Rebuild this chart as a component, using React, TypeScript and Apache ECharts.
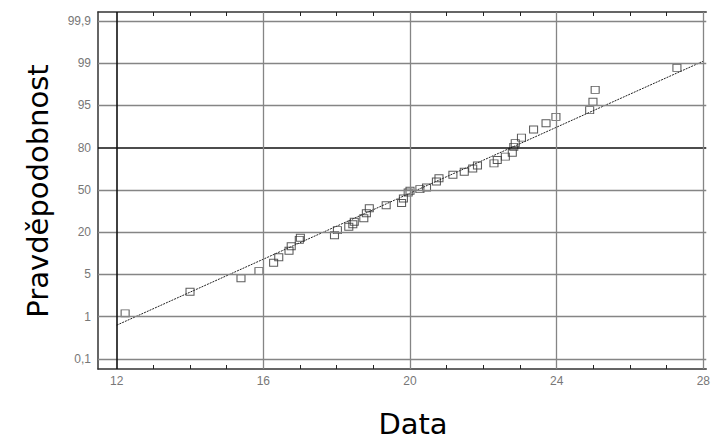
import React, { useEffect, useRef } from "react";
import * as echarts from "echarts";

// Probability-scale tick labels (evenly spaced positions 0..8 on the y axis)
const yTickLabels = ["0,1", "1", "5", "20", "50", "80", "95", "99", "99,9"];
const yTickPositions = [0, 1, 2, 3, 4, 5, 6, 7, 8];
const xTickValues = [12, 16, 20, 24, 28];
const xMinorTicks = [13, 14, 15, 17, 18, 19, 21, 22, 23, 25, 26, 27];

// Observed data (x) and their plotting positions on the probability scale (y)
const dataX = [
  12.23, 14.0, 15.39, 15.88, 16.28, 16.42, 16.7, 16.76, 16.98, 17.01,
  17.94, 18.02, 18.33, 18.44, 18.48, 18.74, 18.81, 18.89, 19.35, 19.77,
  19.82, 19.95, 20.0, 20.27, 20.45, 20.72, 20.79, 21.17, 21.48, 21.71,
  21.84, 22.29, 22.38, 22.6, 22.79, 22.83, 22.87, 23.04, 23.37, 23.71,
  23.98, 24.9, 24.99, 25.05, 27.28,
];
const dataY = [
  1.08, 1.59, 1.91, 2.08, 2.28, 2.41, 2.56, 2.67, 2.82, 2.87,
  2.93, 3.05, 3.13, 3.19, 3.25, 3.33, 3.45, 3.57, 3.64, 3.69,
  3.8, 3.94, 3.98, 4.02, 4.06, 4.2, 4.28, 4.36, 4.43, 4.51,
  4.58, 4.63, 4.71, 4.79, 4.88, 5.02, 5.11, 5.24, 5.43, 5.58,
  5.73, 5.89, 6.09, 6.37, 6.89,
];

// Fitted line endpoints
const fitX = [12, 28];
const fitY = [0.8, 7.05];

// Emphasised reference lines
const refX = 12;
const refY = 5; // 80 %

export default function App() {
  const ref = useRef<HTMLDivElement>(null);

  useEffect(() => {
    if (!ref.current) return;
    const chart = echarts.init(ref.current, undefined, { renderer: "svg" });

    const gridGray = "#858585";
    const markData: any[] = [];
    yTickPositions.forEach((v) => {
      markData.push({
        yAxis: v,
        lineStyle: v === refY
          ? { color: "#111", width: 1.6, type: "solid" }
          : { color: gridGray, width: 1.3, type: "solid" },
      });
    });
    xTickValues.forEach((v) => {
      markData.push({
        xAxis: v,
        lineStyle: v === refX
          ? { color: "#111", width: 1.6, type: "solid" }
          : { color: gridGray, width: 1.3, type: "solid" },
      });
    });

    const labelStyle = {
      color: "#777777",
      fontSize: 12,
      fontFamily: "Liberation Sans, Arial, sans-serif",
    };

    chart.setOption({
      animation: false,
      backgroundColor: "#ffffff",
      grid: { left: 98, top: 12, right: 0, bottom: 73, containLabel: false },
      xAxis: [
        {
          type: "value",
          min: 11.49,
          max: 28.08,
          position: "bottom",
          axisLine: { show: true, onZero: false, lineStyle: { color: "#333", width: 1.5 } },
          axisTick: {
            show: true,
            inside: true,
            length: 4,
            customValues: xMinorTicks,
            lineStyle: { color: "#222", width: 1 },
          },
          axisLabel: {
            ...labelStyle,
            margin: 6,
            customValues: xTickValues,
            formatter: (v: number) => String(Math.round(v)),
          },
          splitLine: { show: false },
        },
        {
          type: "value",
          min: 11.49,
          max: 28.08,
          position: "top",
          axisLine: { show: true, onZero: false, lineStyle: { color: "#333", width: 1.5 } },
          axisTick: {
            show: true,
            inside: true,
            length: 4,
            customValues: xMinorTicks,
            lineStyle: { color: "#222", width: 1 },
          },
          axisLabel: { show: false },
          splitLine: { show: false },
        },
      ],
      yAxis: {
        type: "value",
        min: -0.237,
        max: 8.213,
        axisLine: { show: true, onZero: false, lineStyle: { color: "#333", width: 1.5 } },
        axisTick: { show: false },
        axisLabel: {
          ...labelStyle,
          margin: 7,
          customValues: yTickPositions,
          formatter: (v: number) => yTickLabels[Math.round(v)] ?? "",
        },
        splitLine: { show: false },
      },
      graphic: [
        {
          type: "text",
          x: 38,
          y: 191,
          rotation: Math.PI / 2,
          style: {
            text: "Pravděpodobnost",
            font: '29px "DejaVu Sans"',
            fill: "#000",
            textAlign: "center",
            textVerticalAlign: "middle",
          },
        },
        {
          type: "text",
          x: 413,
          y: 424,
          style: {
            text: "Data",
            font: '29px "DejaVu Sans"',
            fill: "#000",
            textAlign: "center",
            textVerticalAlign: "middle",
          },
        },
      ],
      series: [
        {
          type: "line",
          name: "grid",
          data: [],
          silent: true,
          z: 1,
          markLine: {
            silent: true,
            symbol: "none",
            label: { show: false },
            animation: false,
            data: markData,
          },
        },
        {
          type: "line",
          name: "fit",
          data: fitX.map((x, i) => [x, fitY[i]]),
          showSymbol: false,
          symbol: "none",
          z: 2,
          lineStyle: { color: "#222", width: 1, type: [2, 1] },
        },
        {
          type: "scatter",
          name: "data",
          data: dataX.map((x, i) => [x, dataY[i]]),
          symbol: "rect",
          symbolSize: [8, 7],
          z: 3,
          itemStyle: { color: "rgba(255,255,255,0)", borderColor: "#333", borderWidth: 1 },
        },
      ],
    });

    return () => chart.dispose();
  }, []);

  return (
    <div
      ref={ref}
      style={{ position: "fixed", left: 0, top: 0, width: 713, height: 442 }}
    />
  );
}
